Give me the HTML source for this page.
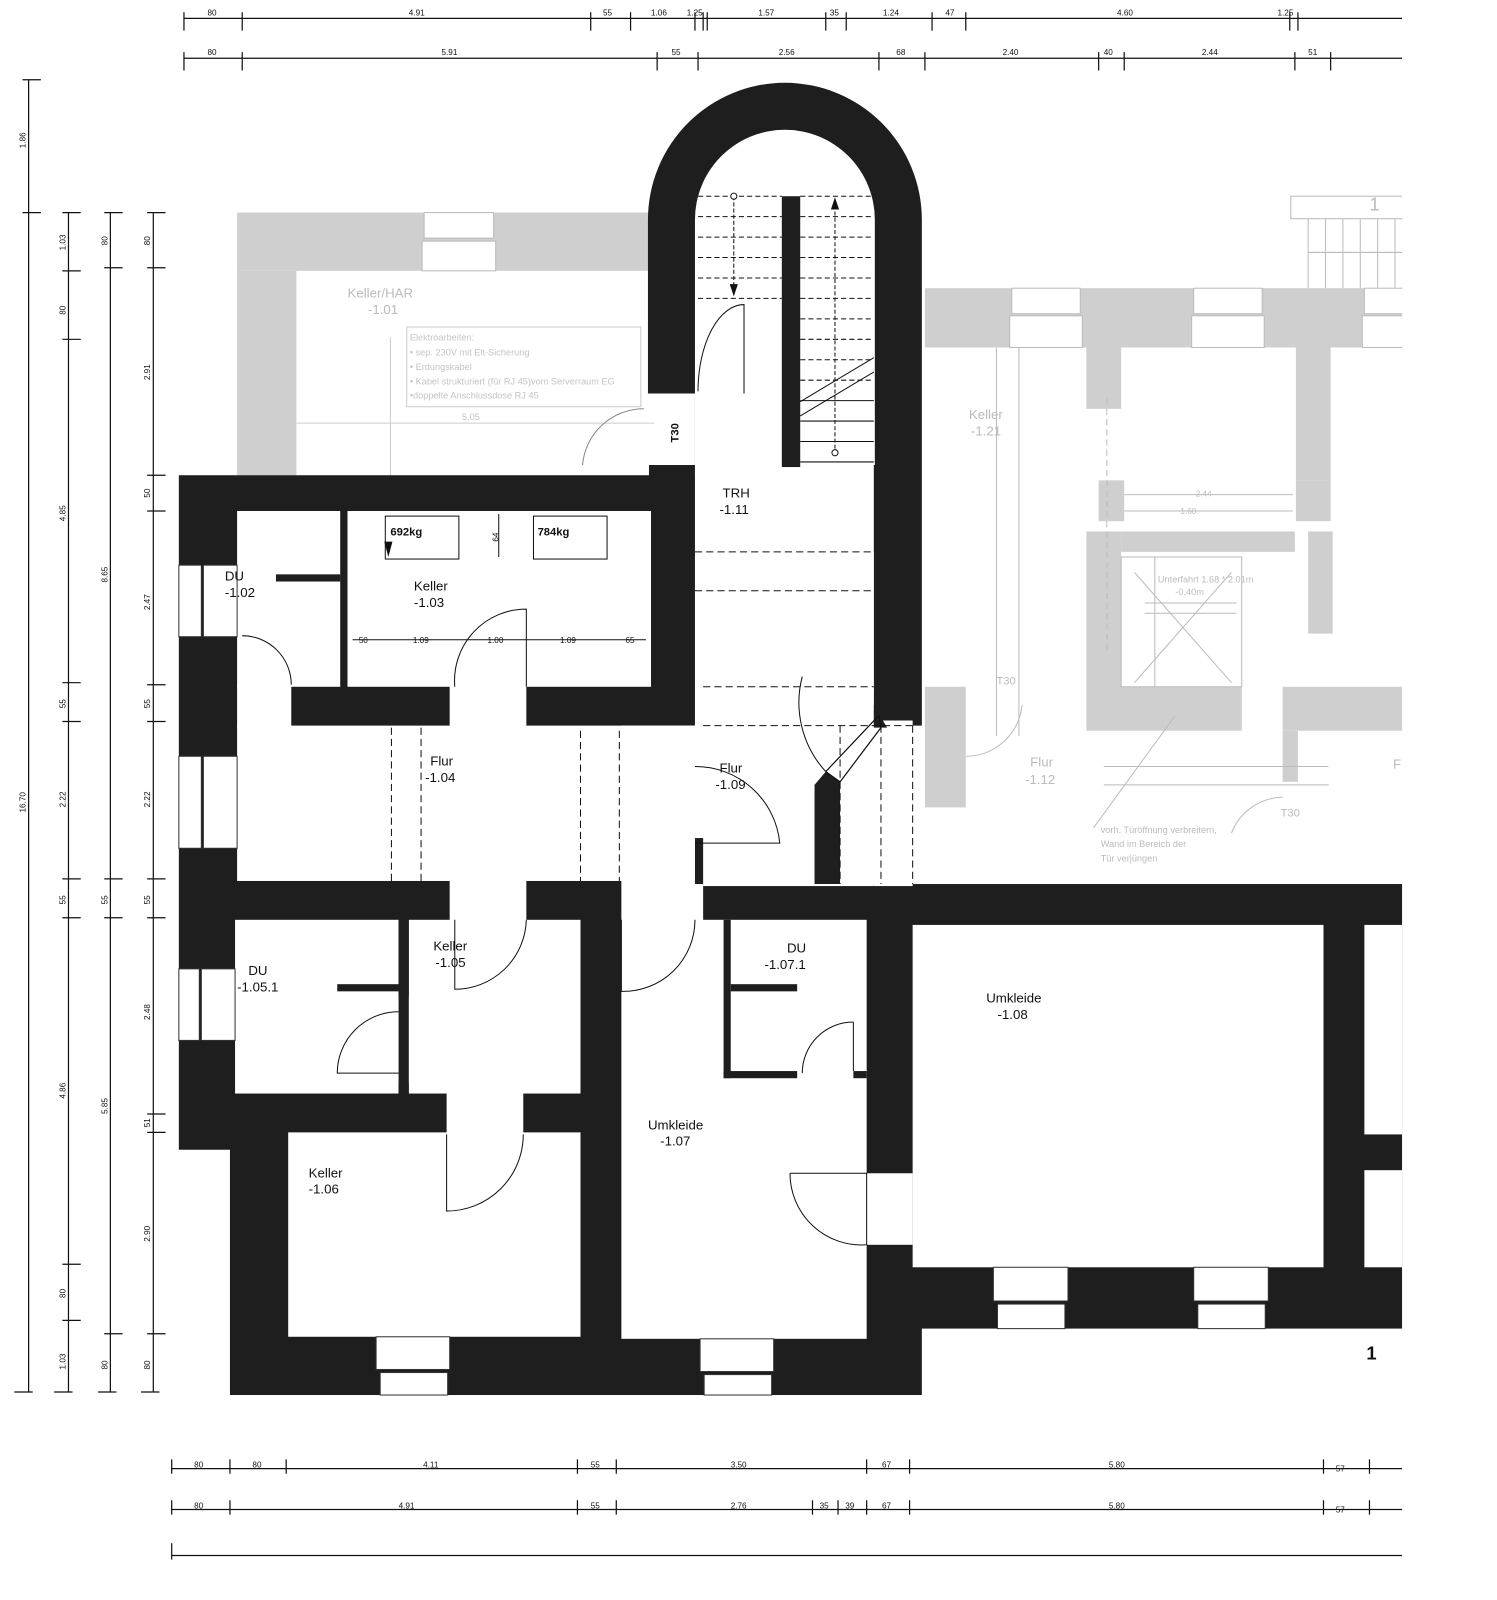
<!DOCTYPE html>
<html><head><meta charset="utf-8"><style>
html,body{margin:0;padding:0;background:#fff;}
svg{display:block;}
text{font-family:"Liberation Sans",sans-serif;}
</style></head><body>
<svg width="1497" height="1600" viewBox="0 0 1497 1600" xmlns="http://www.w3.org/2000/svg">
<rect width="1497" height="1600" fill="#fff"/>
<g transform="scale(1.022)">
<defs><clipPath id="cl"><rect x="0" y="0" width="1372" height="1600"/></clipPath></defs>
<g clip-path="url(#cl)">
<g fill="#cfcfcf">
<rect x="232" y="208" width="403" height="57"/>
<rect x="232" y="265" width="58" height="200"/>
<rect x="905" y="282" width="467" height="58"/>
<rect x="1063" y="340" width="34" height="60"/>
<rect x="1075" y="470" width="25" height="40"/>
<rect x="1063" y="520" width="34" height="160"/>
<rect x="1268" y="340" width="34" height="130"/>
<rect x="1268" y="470" width="34" height="40"/>
<rect x="1280" y="520" width="24" height="100"/>
<rect x="1063" y="672" width="152" height="43"/>
<rect x="1255" y="672" width="117" height="43"/>
<rect x="905" y="672" width="40" height="118"/>
<rect x="1255" y="715" width="15" height="50"/>
<rect x="1097" y="520" width="170" height="20"/>
</g>
<g fill="#fff" stroke="#bbb" stroke-width="1">
<rect x="415" y="208" width="68" height="25"/><rect x="413" y="236" width="72" height="29"/>
<rect x="990" y="282" width="67" height="25"/><rect x="988" y="309" width="71" height="31"/>
<rect x="1168" y="282" width="67" height="25"/><rect x="1166" y="309" width="71" height="31"/>
<rect x="1335" y="282" width="40" height="25"/><rect x="1333" y="309" width="42" height="31"/>
</g>
<g fill="none" stroke="#bbb" stroke-width="1">
<rect x="1263" y="192" width="120" height="22"/>
<path d="M1280 214V282M1297 214V282M1314 214V282M1331 214V282M1348 214V282M1365 214V282M1280 247H1372"/>
<rect x="1097" y="545" width="118" height="127"/>
<path d="M1110 560L1205 668M1205 560L1110 668M1120 590H1210M1120 600H1210M1130 545V672"/>
<path d="M1083 390V520M1083 520V640" stroke-dasharray="6 4"/>
<path d="M975 340V720M997 340V720M1100 484H1265M1100 500H1265M1080 750H1300M1080 768H1300"/>
<path d="M1070 810L1150 700M1205 815A55 55 0 0 1 1255 780"/>
<path d="M945 740A55 55 0 0 0 1000 690"/>
</g>
<g fill="#bbb" font-size="13">
<text x="340" y="291">Keller/HAR</text><text x="360" y="307">-1.01</text>
<text x="948" y="410">Keller</text><text x="950" y="426">-1.21</text>
<text x="1008" y="750">Flur</text><text x="1003" y="767">-1.12</text>
<text x="1363" y="752">F</text>
<text x="975" y="670" font-size="11">T30</text>
<text x="1253" y="799" font-size="11">T30</text>
<text x="1340" y="206" font-size="18">1</text>
<text x="1133" y="570" font-size="9">Unterfahrt 1.68 * 2.01m</text>
<text x="1150" y="582" font-size="9">-0.40m</text>
<text x="1170" y="486" font-size="8">2.44</text><text x="1155" y="503" font-size="8">1.60</text>
<text x="1077" y="815" font-size="9">vorh. Türöffnung verbreitern,</text>
<text x="1077" y="829" font-size="9">Wand im Bereich der</text>
<text x="1077" y="843" font-size="9">Tür verjüngen</text>
</g>
<rect x="398" y="320" width="229" height="78" fill="none" stroke="#ccc"/>
<g fill="#c4c4c4" font-size="9">
<text x="401" y="333">Elektroarbeiten:</text>
<text x="401" y="348">• sep. 230V mit Elt-Sicherung</text>
<text x="401" y="362">• Erdungskabel</text>
<text x="401" y="376">• Kabel strukturiert (für RJ 45)vom Serverraum EG</text>
<text x="401" y="390">•doppelte Anschlussdose RJ 45</text>
<text x="452" y="411">5.05</text>
</g>
<path d="M290 414H640M382 330V465" stroke="#ccc" fill="none"/>
<path d="M570 455A60 60 0 0 1 630 400" stroke="#888" fill="none"/>

<g fill="#1e1e1e">
<rect x="175" y="465" width="505" height="660"/>
<rect x="225" y="1100" width="677" height="265"/>
<rect x="680" y="865" width="692" height="435"/>
<path d="M634,385 V215 A134,134 0 0 1 902,215 V710 H855 V540 H680 V385 Z"/>
<rect x="635" y="455" width="45" height="220"/>
</g>
<g fill="#fff">
<path d="M680,455 V215 A88,88 0 0 1 856,215 V455 Z"/>
<rect x="680" y="450" width="175" height="225"/>
<rect x="232" y="500" width="101" height="172"/>
<rect x="340" y="500" width="297" height="172"/>
<rect x="232" y="670" width="53" height="42"/>
<rect x="440" y="670" width="75" height="42"/>
<rect x="232" y="710" width="448" height="152"/>
<rect x="688" y="672" width="167" height="195"/>
<rect x="855" y="705" width="38" height="162"/>
<rect x="608" y="710" width="80" height="195"/>
<rect x="440" y="860" width="75" height="42"/>
<rect x="230" y="900" width="160" height="170"/>
<rect x="400" y="900" width="168" height="170"/>
<rect x="437" y="1068" width="75" height="42"/>
<rect x="282" y="1108" width="286" height="200"/>
<rect x="608" y="900" width="240" height="410"/>
<rect x="848" y="1148" width="45" height="70"/>
<rect x="893" y="905" width="402" height="335"/>
<rect x="1335" y="905" width="37" height="205"/>
<rect x="1335" y="1145" width="37" height="95"/>
</g>
<g fill="#1e1e1e">
<rect x="333" y="500" width="7" height="172"/>
<rect x="270" y="562" width="63" height="7"/>
<rect x="390" y="900" width="10" height="75"/>
<rect x="390" y="1060" width="10" height="12"/>
<rect x="330" y="963" width="60" height="7"/>
<rect x="708" y="900" width="7" height="155"/>
<rect x="708" y="1048" width="72" height="7"/>
<rect x="835" y="1048" width="13" height="7"/>
<rect x="715" y="963" width="65" height="7"/>
<rect x="765" y="192" width="18" height="265"/>
<rect x="680" y="820" width="8" height="45"/>
<path d="M797,768 L808,755 L822,765 V865 H797 Z"/>
<path d="M855,690 L868,712 L855,712 Z"/>
</g>
<path d="M808,755 L860,700 M822,765 L862,712 M808,755 L822,765 M860,700 L862,712" stroke="#111" fill="none" stroke-width="1.2"/>
<g fill="#fff" stroke="#333" stroke-width="1">
<rect x="175" y="553" width="22" height="70"/><rect x="199" y="553" width="33" height="70"/>
<rect x="175" y="740" width="22" height="90"/><rect x="199" y="740" width="33" height="90"/>
<rect x="175" y="948" width="20" height="70"/><rect x="197" y="948" width="33" height="70"/>
<rect x="368" y="1308" width="72" height="32"/><rect x="372" y="1343" width="66" height="22"/>
<rect x="685" y="1310" width="72" height="32"/><rect x="689" y="1345" width="66" height="20"/>
<rect x="972" y="1240" width="73" height="33"/><rect x="976" y="1276" width="66" height="24"/>
<rect x="1168" y="1240" width="73" height="33"/><rect x="1172" y="1276" width="66" height="24"/>
</g>
<g stroke="#111" stroke-width="1" fill="none">
<path d="M683 192H765M683 212H765M683 232H765M683 252H765M683 272H765M683 292H765M783 192H855M783 212H855M783 232H855M783 252H855M783 272H855M783 292H855M783 312H855M783 332H855M783 352H855M783 372H855" stroke-dasharray="5 3"/>
<path d="M783 392H855M783 412H855M783 432H855M783 452H855"/>
<path d="M783 393L855 350M783 407L855 364"/>
<path d="M718 192V285M817 445V200" stroke-dasharray="4 2"/>
<path d="M680 540H855M680 578H855M688 672H855M688 710H893" stroke-dasharray="7 4"/>
<path d="M383 712V862M412 712V862M568 715V862M606 715V862M822 710V865M862 710V865M893 710V865" stroke-dasharray="7 4"/>
<path d="M683 383A45 85 0 0 1 728 298V385"/>
<path d="M237 622A48 48 0 0 1 285 670"/>
<path d="M445 672A70 70 0 0 1 515 596V672"/>
<path d="M680 750A83 83 0 0 1 763 825H680"/>
<path d="M785 662A100 100 0 0 0 808 755"/>
<path d="M515 900A70 70 0 0 1 445 968V900"/>
<path d="M608 900V970A70 70 0 0 0 680 900"/>
<path d="M390 990A60 60 0 0 0 330 1050H390"/>
<path d="M512 1110A75 75 0 0 1 437 1185V1110"/>
<path d="M835 1000A50 50 0 0 0 785 1050V1048"/>
<path d="M835 1000V1048"/>
<path d="M773 1148A70 70 0 0 0 848 1218V1148H773"/>
<rect x="377" y="505" width="72" height="42"/>
<rect x="522" y="505" width="72" height="42"/>
<path d="M345 626H632"/>
<path d="M488 503V545"/>
</g>
<circle cx="718" cy="192" r="3" fill="#fff" stroke="#111"/>
<circle cx="817" cy="443" r="3" fill="#fff" stroke="#111"/>
<path d="M714 278L718 290L722 278Z M813 205L817 193L821 205Z M376 530L380 545L384 530Z" fill="#111"/>
<g fill="#111" font-size="13">
<text x="220" y="568">DU</text><text x="220" y="584">-1.02</text>
<text x="405" y="578">Keller</text><text x="405" y="594">-1.03</text>
<text x="382" y="524" font-size="11" font-weight="bold">692kg</text>
<text x="526" y="524" font-size="11" font-weight="bold">784kg</text>
<text x="707" y="487">TRH</text><text x="704" y="503">-1.11</text>
<text x="421" y="749">Flur</text><text x="416" y="765">-1.04</text>
<text x="704" y="756">Flur</text><text x="700" y="772">-1.09</text>
<text x="243" y="954">DU</text><text x="232" y="970">-1.05.1</text>
<text x="424" y="930">Keller</text><text x="426" y="946">-1.05</text>
<text x="770" y="932">DU</text><text x="748" y="948">-1.07.1</text>
<text x="302" y="1152">Keller</text><text x="302" y="1168">-1.06</text>
<text x="634" y="1105">Umkleide</text><text x="646" y="1121">-1.07</text>
<text x="965" y="981">Umkleide</text><text x="976" y="997">-1.08</text>
<text x="1337" y="1330" font-size="18" font-weight="bold">1</text>
<text x="0" y="0" font-size="11" font-weight="bold" transform="translate(664 433) rotate(-90)">T30</text>
</g>
<g fill="#111" font-size="8">
<text x="351" y="629">50</text><text x="404" y="629">1.09</text><text x="477" y="629">1.00</text><text x="548" y="629">1.09</text><text x="612" y="629">65</text>
<text x="0" y="0" transform="translate(488 530) rotate(-90)">64</text>
</g>
<g stroke="#111" stroke-width="1.2" fill="none">
<path d="M180 18H1372M180 57H1372M28 78V1362M67 208V1362M108 208V1362M150 208V1362M168 1437H1372M168 1477H1372M168 1522H1372"/>
<path d="M180 12V30M237 12V30M578 12V30M617 12V30M680 12V30M688 12V30M692 12V30M808 12V30M828 12V30M912 12V30M945 12V30M1262 12V30M1270 12V30"/>
<path d="M180 51V69M237 51V69M643 51V69M683 51V69M860 51V69M905 51V69M1075 51V69M1100 51V69M1267 51V69M1302 51V69"/>
<path d="M22 78H40M22 208H40M14 1362H32"/>
<path d="M61 208H79M61 265H79M61 332H79M61 668H79M61 706H79M61 860H79M61 898H79M61 1237H79M61 1292H79M53 1362H71"/>
<path d="M102 208H120M102 262H120M102 860H120M102 898H120M102 1305H120M96 1362H114"/>
<path d="M144 208H162M144 262H162M144 465H162M144 500H162M144 670H162M144 706H162M144 860H162M144 898H162M144 1090H162M144 1108H162M144 1305H162M138 1362H156"/>
<path d="M168 1428V1442M225 1428V1442M280 1428V1442M565 1428V1442M603 1428V1442M848 1428V1442M890 1428V1442M1295 1428V1442M1340 1428V1442"/>
<path d="M168 1468V1482M225 1468V1482M565 1468V1482M603 1468V1482M795 1468V1482M820 1468V1482M848 1468V1482M890 1468V1482M1295 1468V1482M1340 1468V1482"/>
<path d="M168 1510V1526"/>
</g>
<g fill="#111" font-size="8">
<text x="203" y="15">80</text><text x="400" y="15">4.91</text><text x="590" y="15">55</text><text x="637" y="15">1.06</text><text x="672" y="15">1.25</text><text x="742" y="15">1.57</text><text x="812" y="15">35</text><text x="864" y="15">1.24</text><text x="925" y="15">47</text><text x="1093" y="15">4.60</text><text x="1250" y="15">1.25</text>
<text x="203" y="54">80</text><text x="432" y="54">5.91</text><text x="657" y="54">55</text><text x="762" y="54">2.56</text><text x="877" y="54">68</text><text x="981" y="54">2.40</text><text x="1080" y="54">40</text><text x="1176" y="54">2.44</text><text x="1280" y="54">51</text>
<text x="190" y="1436">80</text><text x="247" y="1436">80</text><text x="414" y="1436">4.11</text><text x="578" y="1436">55</text><text x="715" y="1436">3.50</text><text x="863" y="1436">67</text><text x="1085" y="1436">5.80</text><text x="1307" y="1440">57</text>
<text x="190" y="1476">80</text><text x="390" y="1476">4.91</text><text x="578" y="1476">55</text><text x="715" y="1476">2.76</text><text x="802" y="1476">35</text><text x="827" y="1476">39</text><text x="863" y="1476">67</text><text x="1085" y="1476">5.80</text><text x="1307" y="1480">57</text>
</g>
<g fill="#111" font-size="8">
<text transform="translate(25 145) rotate(-90)">1.86</text>
<text transform="translate(25 795) rotate(-90)">16.70</text>
<text transform="translate(64 245) rotate(-90)">1.03</text>
<text transform="translate(64 308) rotate(-90)">80</text>
<text transform="translate(64 510) rotate(-90)">4.85</text>
<text transform="translate(64 693) rotate(-90)">55</text>
<text transform="translate(64 790) rotate(-90)">2.22</text>
<text transform="translate(64 885) rotate(-90)">55</text>
<text transform="translate(64 1075) rotate(-90)">4.86</text>
<text transform="translate(64 1270) rotate(-90)">80</text>
<text transform="translate(64 1340) rotate(-90)">1.03</text>
<text transform="translate(105 240) rotate(-90)">80</text>
<text transform="translate(105 570) rotate(-90)">8.65</text>
<text transform="translate(105 885) rotate(-90)">55</text>
<text transform="translate(105 1090) rotate(-90)">5.85</text>
<text transform="translate(105 1340) rotate(-90)">80</text>
<text transform="translate(147 240) rotate(-90)">80</text>
<text transform="translate(147 372) rotate(-90)">2.91</text>
<text transform="translate(147 487) rotate(-90)">50</text>
<text transform="translate(147 597) rotate(-90)">2.47</text>
<text transform="translate(147 693) rotate(-90)">55</text>
<text transform="translate(147 790) rotate(-90)">2.22</text>
<text transform="translate(147 885) rotate(-90)">55</text>
<text transform="translate(147 998) rotate(-90)">2.48</text>
<text transform="translate(147 1103) rotate(-90)">51</text>
<text transform="translate(147 1215) rotate(-90)">2.90</text>
<text transform="translate(147 1340) rotate(-90)">80</text>
</g>
</g>
</g>
</svg>
</body></html>
